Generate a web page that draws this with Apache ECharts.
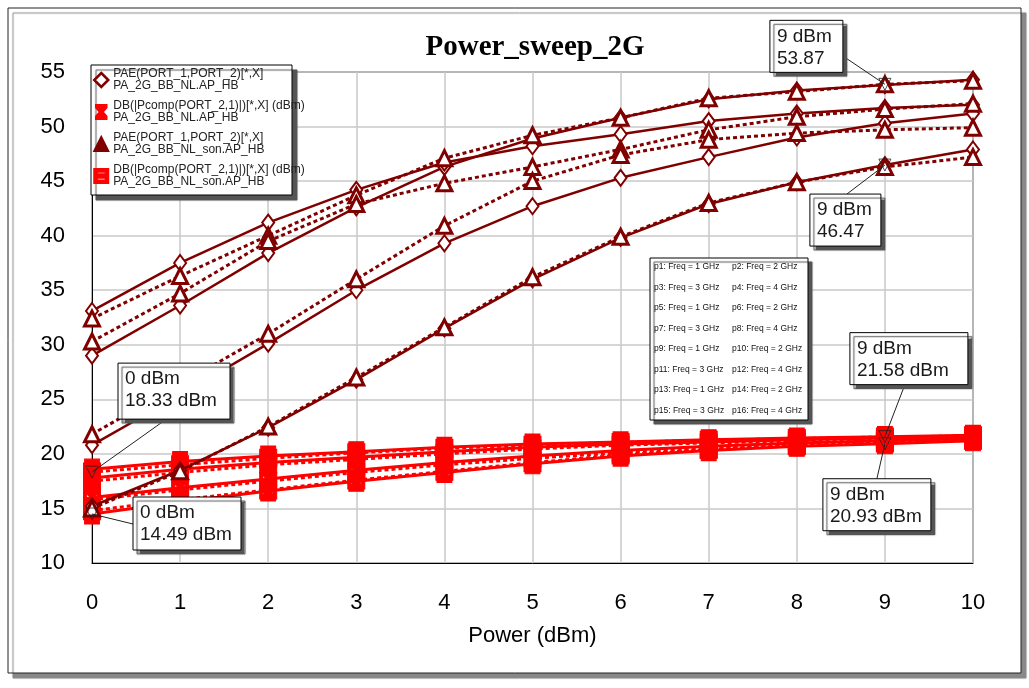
<!DOCTYPE html>
<html>
<head>
<meta charset="utf-8">
<script src="https://cdn.jsdelivr.net/npm/echarts@6/dist/echarts.min.js"></script>
<style>
  html, body { margin: 0; padding: 0; background: #fff; }
  #chart { width: 1029px; height: 688px; }
</style>
</head>
<body>
<div id="chart"></div>
<script>
// Input power sweep points (dBm)
const power = [0, 1, 2, 3, 4, 5, 6, 7, 8, 9, 10];
const freqLabels = ['1 GHz', '2 GHz', '3 GHz', '4 GHz'];

// PAE (%) - NL model, one row per frequency
const paeNL = [
  [29.0, 33.6, 38.4, 42.6, 46.3, 48.9, 50.8, 52.5, 53.3, 53.8, 54.3],
  [33.1, 37.5, 41.2, 44.2, 46.7, 48.2, 49.3, 50.5, 51.2, 51.7, 52.0],
  [20.8, 25.4, 30.1, 35.0, 39.3, 42.7, 45.3, 47.2, 49.0, 50.3, 51.2],
  [15.2, 18.5, 22.4, 26.8, 31.5, 36.0, 39.8, 42.9, 44.9, 46.47, 47.9]
];
// Output power (dBm) - NL model
const pcompNL = [
  [18.6, 19.3, 19.8, 20.2, 20.6, 20.9, 21.1, 21.3, 21.45, 21.58, 21.7],
  [17.8, 18.6, 19.2, 19.7, 20.2, 20.6, 20.9, 21.1, 21.3, 21.45, 21.6],
  [16.0, 16.9, 17.7, 18.5, 19.2, 19.8, 20.3, 20.7, 21.0, 21.2, 21.4],
  [14.49, 15.6, 16.6, 17.5, 18.3, 19.1, 19.8, 20.3, 20.7, 20.93, 21.2]
];
// PAE (%) - NL_son model
const paeSon = [
  [32.4, 36.3, 40.0, 43.7, 47.1, 49.2, 50.8, 52.6, 53.2, 53.87, 54.2],
  [30.3, 34.7, 39.5, 42.9, 44.8, 46.3, 47.9, 49.7, 50.9, 51.6, 52.1],
  [21.8, 26.4, 31.0, 36.0, 40.9, 45.0, 47.4, 48.8, 49.4, 49.7, 49.9],
  [15.0, 18.4, 22.5, 27.0, 31.6, 36.2, 39.9, 43.0, 44.9, 46.3, 47.2]
];
// Output power (dBm) - NL_son model
const pcompSon = [
  [18.33, 19.0, 19.6, 20.1, 20.5, 20.8, 21.05, 21.25, 21.4, 21.55, 21.65],
  [17.5, 18.3, 19.0, 19.5, 20.0, 20.45, 20.8, 21.0, 21.2, 21.35, 21.5],
  [15.8, 16.7, 17.5, 18.3, 19.0, 19.6, 20.1, 20.5, 20.85, 21.1, 21.3],
  [14.8, 15.8, 16.7, 17.6, 18.4, 19.2, 19.9, 20.4, 20.75, 21.0, 21.25]
];

// Trace names
const namePaeNL = 'PAE(PORT_1,PORT_2)[*,X]\nPA_2G_BB_NL.AP_HB';
const namePcompNL = 'DB(|Pcomp(PORT_2,1)|)[*,X] (dBm)\nPA_2G_BB_NL.AP_HB';
const namePaeSon = 'PAE(PORT_1,PORT_2)[*,X]\nPA_2G_BB_NL_son.AP_HB';
const namePcompSon = 'DB(|Pcomp(PORT_2,1)|)[*,X] (dBm)\nPA_2G_BB_NL_son.AP_HB';

// Markers placed on traces
const markerPower = [0, 0, 9, 9, 9, 9];
const markerValue = [18.33, 14.49, 53.87, 46.47, 21.58, 20.93];
const markerUnit = [' dBm', ' dBm', '', '', ' dBm', ' dBm'];

// Axis ticks
const xTicks = { min: 0, max: 10, step: 1 };
const yTicks = { min: 10, max: 55, step: 5 };

const DARK = '#800000';
const RED = '#ff0000';

const hourglass = 'path://M0,0H12V3L7.5,8L12,13V16H0V13L4.5,8L0,3Z';
const ibeam = 'path://M0,0H16V16H0Z M3,3V6H7V10H3V13H13V10H9V6H13V3Z';

function pairs(arr) { return arr.map((v, i) => [power[i], v]); }

const series = [];
pcompNL.forEach(row => series.push({
  name: namePcompNL, type: 'line', data: pairs(row), z: 2,
  symbol: hourglass, symbolSize: [15, 20],
  lineStyle: { color: RED, width: 3, type: 'solid' },
  itemStyle: { color: RED, borderColor: RED, borderWidth: 1 }
}));
pcompSon.forEach(row => series.push({
  name: namePcompSon, type: 'line', data: pairs(row), z: 2,
  symbol: ibeam, symbolSize: [17, 18],
  lineStyle: { color: RED, width: 3, type: [4, 3] },
  itemStyle: { color: RED, borderColor: RED, borderWidth: 1 }
}));
paeNL.forEach(row => series.push({
  name: namePaeNL, type: 'line', data: pairs(row), z: 2.5,
  symbol: 'diamond', symbolSize: [12, 16],
  lineStyle: { color: DARK, width: 2.5, type: 'solid' },
  itemStyle: { color: '#fff', borderColor: DARK, borderWidth: 2 }
}));
paeSon.forEach(row => series.push({
  name: namePaeSon, type: 'line', data: pairs(row), z: 2.5,
  symbol: 'triangle', symbolSize: [15, 15],
  lineStyle: { color: DARK, width: 3, type: [4, 3] },
  itemStyle: { color: '#fff', borderColor: DARK, borderWidth: 3 }
}));
// inverted-triangle marker glyphs
series.push({
  name: 'markers', type: 'scatter', z: 3,
  data: markerPower.map((p, i) => [p, markerValue[i]]),
  symbol: 'triangle', symbolRotate: 180, symbolSize: 12,
  itemStyle: { color: 'rgba(0,0,0,0)', borderColor: '#222', borderWidth: 1 },
  silent: true
});

const chart = echarts.init(document.getElementById('chart'), null, { renderer: 'canvas' });

const FONT = 'Liberation Sans, Arial, sans-serif';

chart.setOption({
  backgroundColor: '#fff',
  animation: false,
  title: {
    text: 'Power_sweep_2G',
    left: 530, top: 28, textAlign: 'center',
    textStyle: { fontFamily: 'Liberation Serif, Times New Roman, serif', fontWeight: 'bold', fontSize: 29, color: '#000' }
  },
  grid: { left: 92, right: 56, top: 72, bottom: 125, show: true, borderColor: '#000', borderWidth: 1, backgroundColor: 'transparent' },
  xAxis: {
    type: 'value', min: xTicks.min, max: xTicks.max, interval: xTicks.step,
    name: 'Power (dBm)', nameLocation: 'middle', nameGap: 62,
    nameTextStyle: { fontFamily: FONT, fontSize: 22, color: '#000' },
    axisLine: { lineStyle: { color: '#000', width: 1 } },
    axisTick: { show: false },
    axisLabel: { fontFamily: FONT, fontSize: 22, color: '#000', margin: 29 },
    splitLine: { show: true, lineStyle: { color: '#c8c8c8', width: 1.5 } }
  },
  yAxis: {
    type: 'value', min: yTicks.min, max: yTicks.max, interval: yTicks.step,
    axisLine: { show: true, lineStyle: { color: '#000', width: 1 } },
    axisTick: { show: false },
    axisLabel: { fontFamily: FONT, fontSize: 22, color: '#000', margin: 27 },
    splitLine: { show: true, lineStyle: { color: '#c8c8c8', width: 1.5 } }
  },
  legend: {
    orient: 'vertical', left: 92, top: 63, z: 10,
    padding: [5, 4, 5, 1],
    itemGap: 8, itemWidth: 14, itemHeight: 14,
    textStyle: { fontFamily: FONT, fontSize: 12, lineHeight: 12, color: '#222' },
    selectedMode: false,
    data: [
      { name: namePaeNL, icon: 'diamond', itemStyle: { color: '#fff', borderColor: DARK, borderWidth: 2.5 } },
      { name: namePcompNL, icon: hourglass, itemStyle: { color: RED, borderColor: RED } },
      { name: namePaeSon, icon: 'triangle', itemStyle: { color: DARK, borderColor: DARK } },
      { name: namePcompSon, icon: ibeam, itemStyle: { color: RED, borderColor: RED } }
    ]
  },
  series: series
});

// Outer frame, legend panel, trace-key box, and marker readouts
const graphics = [];
graphics.push({
  type: 'rect', z: -100, silent: true,
  shape: { x: 8, y: 8, width: 1013, height: 665 },
  style: { fill: '#fff', stroke: '#222', lineWidth: 1, shadowColor: '#888', shadowBlur: 1, shadowOffsetX: 5, shadowOffsetY: 5 }
});
// panel behind the legend entries
graphics.push({
  type: 'rect', z: 8, silent: true,
  shape: { x: 91, y: 65, width: 201, height: 130 },
  style: { fill: '#fff', stroke: '#000', lineWidth: 1, shadowColor: '#555', shadowBlur: 1, shadowOffsetX: 5, shadowOffsetY: 5 }
});

// trace key listing p1..p16
const keyLines = [];
for (let i = 0; i < 16; i += 2) {
  const a = 'p' + (i + 1) + ': Freq = ' + freqLabels[i % 4];
  const b = 'p' + (i + 2) + ': Freq = ' + freqLabels[(i + 1) % 4];
  keyLines.push([a, b]);
}
const keyChildren = [{
  type: 'rect', z: 50, shape: { x: 0, y: 0, width: 158, height: 162 },
  style: { fill: '#fff', stroke: '#000', lineWidth: 1, shadowColor: '#555', shadowBlur: 1, shadowOffsetX: 4, shadowOffsetY: 4 }
}];
keyLines.forEach((pair, r) => {
  keyChildren.push({ type: 'text', z: 51, x: 4, y: 9 + r * 20.5, style: { text: pair[0], font: '8.5px ' + FONT, fill: '#111', verticalAlign: 'middle' } });
  keyChildren.push({ type: 'text', z: 51, x: 82, y: 9 + r * 20.5, style: { text: pair[1], font: '8.5px ' + FONT, fill: '#111', verticalAlign: 'middle' } });
});
graphics.push({ type: 'group', x: 650, y: 258, silent: true, children: keyChildren });

// readout box layout relative to each marker: [boxDx, boxDy, width, height, leadDx, leadDy]
const boxLayout = [
  [26, -109, 112, 56, 73, -52],
  [41, -17, 108, 53, 41, 10],
  [-115, -64, 73, 52, -43, -29],
  [-75, 29, 71, 52, -38, 29],
  [-35, -104, 118, 52, 20, -52],
  [-62, 35, 108, 52, -8, 35]
];
markerPower.forEach((p, i) => {
  const pt = chart.convertToPixel({ gridIndex: 0 }, [p, markerValue[i]]);
  const L = boxLayout[i];
  graphics.push({
    type: 'line', z: 60, silent: true,
    shape: { x1: pt[0] + L[4], y1: pt[1] + L[5], x2: pt[0], y2: pt[1] },
    style: { stroke: '#222', lineWidth: 1 }
  });
  graphics.push({
    type: 'group', x: pt[0] + L[0], y: pt[1] + L[1], silent: true,
    children: [
      { type: 'rect', z: 61, shape: { x: 0, y: 0, width: L[2], height: L[3] },
        style: { fill: '#fff', stroke: '#000', lineWidth: 1, shadowColor: '#555', shadowBlur: 1, shadowOffsetX: 4, shadowOffsetY: 4 } },
      { type: 'text', z: 62, x: 7, y: 5,
        style: { text: p + ' dBm\n' + markerValue[i].toFixed(2) + markerUnit[i], font: '19px ' + FONT, lineHeight: 22, fill: '#1a1a1a' } }
    ]
  });
});
chart.setOption({ graphic: graphics });
</script>
</body>
</html>
